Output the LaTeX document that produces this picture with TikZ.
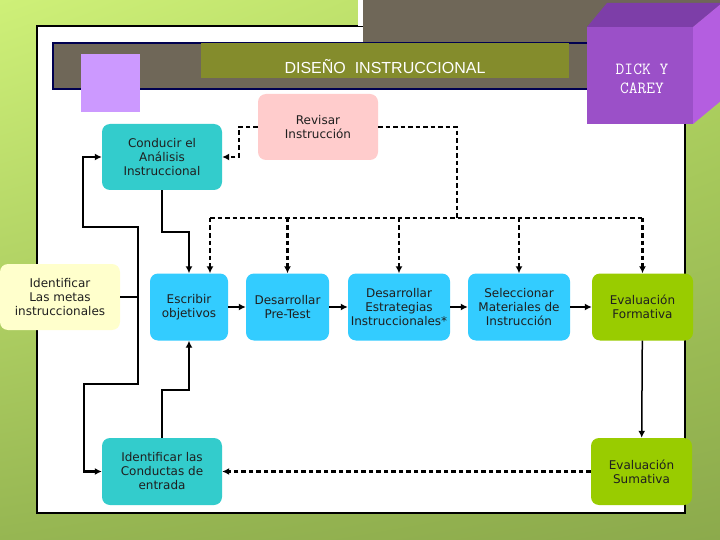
\documentclass[tikz,border=0pt]{standalone}
\usepackage{fontspec}
\setmainfont{DejaVu Sans}
\newfontfamily\titlefont{Liberation Sans}
\usepackage{xcolor}
\usetikzlibrary{arrows.meta,positioning,calc,shadings}

\definecolor{bgtl}{RGB}{206,240,120}
\definecolor{bgtr}{RGB}{178,214,98}
\definecolor{bgbl}{RGB}{150,182,82}
\definecolor{bgbr}{RGB}{140,170,76}
\definecolor{bandgray}{RGB}{111,103,88}
\definecolor{bandnavy}{RGB}{0,0,80}
\definecolor{olivebar}{RGB}{132,140,44}
\definecolor{lilac}{RGB}{204,153,255}
\definecolor{cubefront}{RGB}{155,80,200}
\definecolor{cubetop}{RGB}{125,62,168}
\definecolor{cubeside}{RGB}{180,94,224}
\definecolor{pinkbox}{RGB}{255,204,204}
\definecolor{tealbox}{RGB}{51,204,204}
\definecolor{bluebox}{RGB}{51,204,255}
\definecolor{greenbox}{RGB}{153,204,0}
\definecolor{yellowbox}{RGB}{255,255,204}

\begin{document}
\begin{tikzpicture}[
  x=1pt, y=-1pt,
  stage/.style={
    rectangle,
    rounded corners=8pt,
    inner sep=0pt,
    align=center,
    minimum height=66pt,
    text=black!88,
    font=\fontsize{12}{14}\selectfont
  },
  link/.style={-{Latex[length=7pt,width=7pt]}, line width=2.2pt},
  dlink/.style={link, dash pattern=on 4.5pt off 3pt},
  dline/.style={line width=2.2pt, dash pattern=on 4.5pt off 3pt}
]

\useasboundingbox (0,0) rectangle (720,540);
\shade[upper left=bgtl, upper right=bgtr, lower left=bgbl, lower right=bgbr] (0,0) rectangle (720,540);

\node[draw=black, line width=1.2pt, fill=white, minimum width=648pt, minimum height=487pt, inner sep=0pt] (panel) at (361,269.5) {};
\fill[bandgray] (363,0) rectangle (720,43);
\fill[white] (358,0) rectangle (363,26);

\node[draw=bandnavy, line width=1.5pt, fill=bandgray, minimum width=546pt, minimum height=46pt, inner sep=0pt] (band) at (326,66) {};
\node[fill=olivebar, minimum width=368pt, minimum height=35pt, inner sep=0pt] (titlebar) at (385,60.5) {};
\node[text=white, font=\titlefont\fontsize{16}{18}\selectfont] (title) at (385,67) {DISEÑO~ INSTRUCCIONAL};
\node[fill=lilac, minimum width=59pt, minimum height=58pt, inner sep=0pt] (lilacsq) at (110.5,83) {};

\fill[cubetop] (587,27) -- (607,3) -- (722,3) -- (693,27) -- cycle;
\fill[cubeside] (693,27) -- (722,3) -- (722,100) -- (693,124) -- cycle;
\fill[cubefront] (587,27) rectangle (693,124);
\node[text=white, align=center, font=\ttfamily\fontsize{17}{19}\selectfont] (dickcarey) at (642,79) {DICK Y\\CAREY};

\node[stage, fill=pinkbox, minimum width=120pt] (revisar) at (318,127) {Revisar\\Instrucción};
\node[stage, fill=tealbox, minimum width=120pt] (conducir) at (162,157) {Conducir el\\Análisis\\Instruccional};
\node[stage, fill=yellowbox, minimum width=120pt] (metas) at (60,297) {Identificar\\Las metas\\instruccionales};
\node[stage, fill=bluebox, minimum width=78pt, minimum height=67pt] (escribir) at (189,307) {Escribir\\objetivos};
\node[stage, fill=bluebox, minimum width=83pt, minimum height=67pt] (pretest) at (287.5,307) {Desarrollar\\Pre-Test};
\node[stage, fill=bluebox, minimum width=102pt, minimum height=67pt] (estrategias) at (399,307) {Desarrollar\\Estrategias\\Instruccionales*};
\node[stage, fill=bluebox, minimum width=102pt, minimum height=67pt] (materiales) at (519,307) {Seleccionar\\Materiales de\\Instrucción};
\node[stage, fill=greenbox, minimum width=101pt, minimum height=67pt] (formativa) at (642.5,307) {Evaluación\\Formativa};
\node[stage, fill=tealbox, minimum width=120pt, minimum height=67pt] (conductas) at (162,471.5) {Identificar las\\Conductas de\\entrada};
\node[stage, fill=greenbox, minimum width=101pt, minimum height=67pt] (sumativa) at (641.5,471.5) {Evaluación\\Sumativa};

\coordinate (bus) at (457,218);
\coordinate (busL) at (210,218);
\coordinate (spineTop) at (138,227);
\coordinate (spineBot) at (138,384);

\draw[dlink] (revisar.west) -- ++(-19,0) |- (conducir.east);
\draw[dline] (revisar.east) -| (bus);
\draw[dline] (busL) -- (formativa.north |- busL);
\draw[dlink] (busL) -- (busL |- escribir.north);
\foreach \n in {pretest,estrategias,materiales,formativa}
  \draw[dlink] (\n.north |- busL) -- (\n.north);

\draw[link] (conducir.south) -- ++(0,42) -| (escribir.north);
\draw[link] (metas.east) -| (spineTop) -- ++(-55,0) |- (conducir.west);
\draw[link] (metas.east) -| (spineBot) -- ++(-54,0) |- (conductas.west);
\draw[link] (conductas.north) -- ++(0,-48) -| (escribir.south);

\foreach \a/\b in {escribir/pretest,pretest/estrategias,estrategias/materiales,materiales/formativa}
  \draw[link] (\a) -- (\b);

\draw[link, line width=1.5pt] (formativa) -- (sumativa);
\draw[dlink] (sumativa) -- (conductas);

\end{tikzpicture}
\end{document}
